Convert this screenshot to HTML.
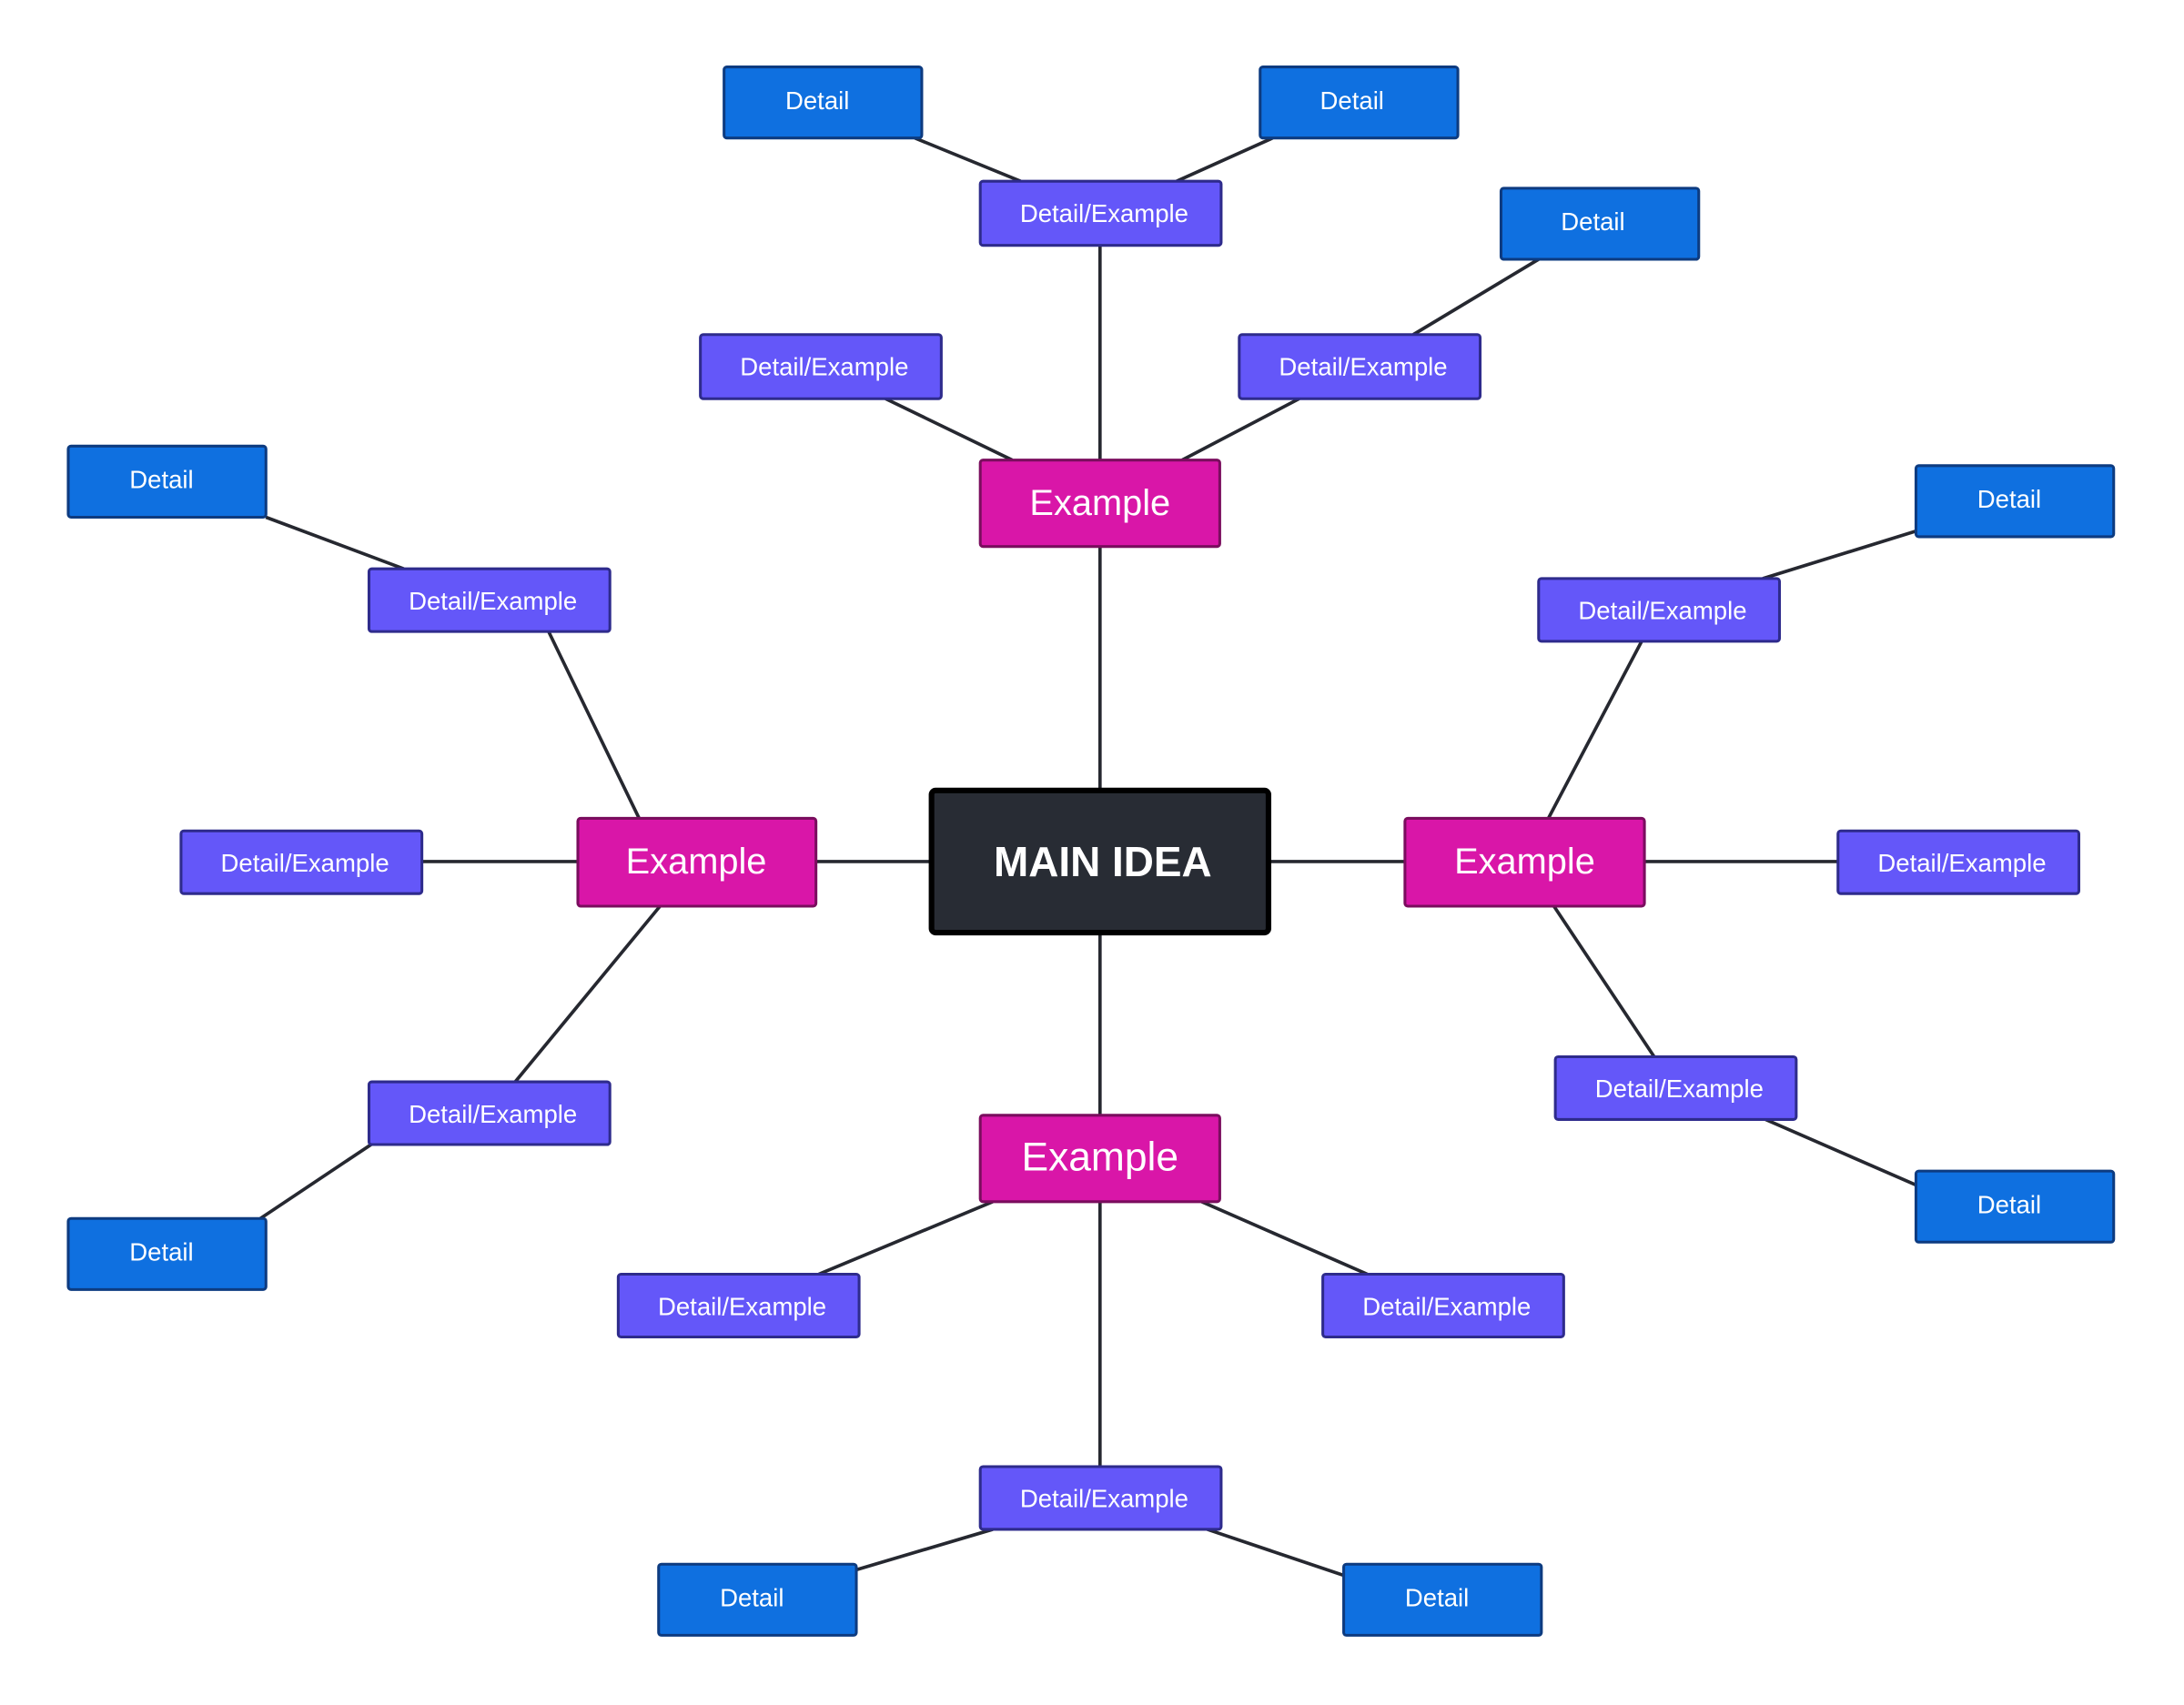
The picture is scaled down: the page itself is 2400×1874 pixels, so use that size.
<!DOCTYPE html>
<html><head><meta charset="utf-8"><style>
html,body{margin:0;padding:0;background:#fff;}
svg{display:block;}
text{font-family:"Liberation Sans",sans-serif;fill:#fff;text-anchor:middle;dominant-baseline:central;}
.l{stroke:#262830;stroke-width:2.4;fill:none;}
.m rect{fill:#282c34;stroke:#000;stroke-width:4;}
.e rect{fill:#d916a8;stroke:#7a0d5e;stroke-width:2;}
.d rect{fill:#6457f9;stroke:#2e2b8c;stroke-width:2;}
.t rect{fill:#0f70e0;stroke:#0d3b80;stroke-width:2;}
.e text{font-size:26px;}
.d text,.t text{font-size:18px;}
</style></head><body>
<svg width="2400" height="1874" viewBox="0 0 1568.5 1223" preserveAspectRatio="none">
<g class="l">
<line x1="657" y1="99" x2="733" y2="130"/><line x1="914" y1="99" x2="845" y2="130"/>
<line x1="790" y1="176" x2="790" y2="330"/>
<line x1="1105" y1="186" x2="1015" y2="240"/>
<line x1="636" y1="286" x2="727" y2="330"/><line x1="933" y1="286" x2="849" y2="330"/>
<line x1="790" y1="392" x2="790" y2="567"/>
<line x1="191" y1="371" x2="290" y2="408"/><line x1="394" y1="453" x2="459" y2="587"/>
<line x1="303" y1="618" x2="415" y2="618"/><line x1="586" y1="618" x2="669" y2="618"/>
<line x1="474" y1="650" x2="370" y2="776"/><line x1="271" y1="818" x2="187" y2="874"/>
<line x1="911" y1="618" x2="1009" y2="618"/>
<line x1="1376" y1="381" x2="1266" y2="415"/><line x1="1179" y1="460" x2="1112" y2="587"/>
<line x1="1181" y1="618" x2="1320" y2="618"/>
<line x1="1116" y1="650" x2="1188" y2="758"/><line x1="1268" y1="803" x2="1376" y2="850"/>
<line x1="790" y1="669" x2="790" y2="800"/>
<line x1="713" y1="862" x2="588" y2="914"/><line x1="863" y1="862" x2="982" y2="914"/>
<line x1="790" y1="862" x2="790" y2="1052"/>
<line x1="713" y1="1097" x2="615" y2="1126"/><line x1="867" y1="1097" x2="965" y2="1130"/>
</g>
<g class="m"><rect x="669" y="567" width="242" height="102" rx="3"/><text x="792" y="618" style="font-size:30px;font-weight:bold">MAIN IDEA</text></g>
<g class="e"><rect x="704" y="330" width="172" height="62" rx="2"/><text x="790" y="361">Example</text></g>
<g class="e"><rect x="415" y="587" width="171" height="63" rx="2"/><text x="500" y="618">Example</text></g>
<g class="e"><rect x="1009" y="587" width="172" height="63" rx="2"/><text x="1095" y="618">Example</text></g>
<g class="e"><rect x="704" y="800" width="172" height="62" rx="2"/><text x="790" y="830" style="font-size:29px">Example</text></g>
<g class="d"><rect x="704" y="130" width="173" height="46" rx="2"/><text x="793" y="153">Detail/Example</text></g>
<g class="d"><rect x="503" y="240" width="173" height="46" rx="2"/><text x="592" y="263">Detail/Example</text></g>
<g class="d"><rect x="890" y="240" width="173" height="46" rx="2"/><text x="979" y="263">Detail/Example</text></g>
<g class="d"><rect x="265" y="408" width="173" height="45" rx="2"/><text x="354" y="431">Detail/Example</text></g>
<g class="d"><rect x="130" y="596" width="173" height="45" rx="2"/><text x="219" y="619">Detail/Example</text></g>
<g class="d"><rect x="265" y="776" width="173" height="45" rx="2"/><text x="354" y="799">Detail/Example</text></g>
<g class="d"><rect x="1105" y="415" width="173" height="45" rx="2"/><text x="1194" y="438">Detail/Example</text></g>
<g class="d"><rect x="1320" y="596" width="173" height="45" rx="2"/><text x="1409" y="619">Detail/Example</text></g>
<g class="d"><rect x="1117" y="758" width="173" height="45" rx="2"/><text x="1206" y="781">Detail/Example</text></g>
<g class="d"><rect x="444" y="914" width="173" height="45" rx="2"/><text x="533" y="937">Detail/Example</text></g>
<g class="d"><rect x="950" y="914" width="173" height="45" rx="2"/><text x="1039" y="937">Detail/Example</text></g>
<g class="d"><rect x="704" y="1052" width="173" height="45" rx="2"/><text x="793" y="1075">Detail/Example</text></g>
<g class="t"><rect x="520" y="48" width="142" height="51" rx="2"/><text x="587" y="72">Detail</text></g>
<g class="t"><rect x="905" y="48" width="142" height="51" rx="2"/><text x="971" y="72">Detail</text></g>
<g class="t"><rect x="1078" y="135" width="142" height="51" rx="2"/><text x="1144" y="159">Detail</text></g>
<g class="t"><rect x="49" y="320" width="142" height="51" rx="2"/><text x="116" y="344">Detail</text></g>
<g class="t"><rect x="1376" y="334" width="142" height="51" rx="2"/><text x="1443" y="358">Detail</text></g>
<g class="t"><rect x="49" y="874" width="142" height="51" rx="2"/><text x="116" y="898">Detail</text></g>
<g class="t"><rect x="1376" y="840" width="142" height="51" rx="2"/><text x="1443" y="864">Detail</text></g>
<g class="t"><rect x="473" y="1122" width="142" height="51" rx="2"/><text x="540" y="1146">Detail</text></g>
<g class="t"><rect x="965" y="1122" width="142" height="51" rx="2"/><text x="1032" y="1146">Detail</text></g>
</svg>
</body></html>
